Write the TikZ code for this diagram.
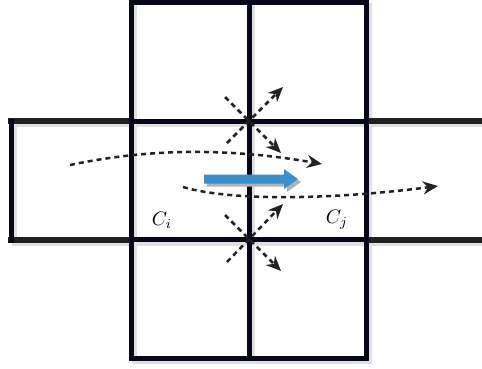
\documentclass[tikz,border=0pt]{standalone}
\usetikzlibrary{arrows.meta}
\definecolor{gridc}{HTML}{07071A}
\definecolor{sidec}{HTML}{231F20}
\definecolor{shadc}{HTML}{E0E0E2}
\definecolor{bluec}{HTML}{3A8FCF}
\definecolor{dashc}{HTML}{222222}
\tikzset{
  gridline/.style={draw=gridc,line width=5pt,line cap=rect},
  sideline/.style={draw=sidec,line width=5.5pt,line cap=rect},
  shadowline/.style={draw=shadc,line width=5pt,line cap=rect},
  flow/.style={draw=dashc,line width=2.5pt,dash pattern=on 5pt off 4pt,
    -{Stealth[length=15pt,width=13pt,inset=5pt]}},
  lbl/.style={inner sep=0pt,scale=1.95}
}
\begin{document}
\begin{tikzpicture}[x=1pt,y=-1pt]
\useasboundingbox (0,0) rectangle (482,368);
% shadows
\begin{scope}[shift={(3,3)}]
  \draw[shadowline] (131,2) -- (131,358) -- (366.5,358) -- (366.5,2);
  \draw[shadowline] (249.5,2) -- (249.5,358);
  \draw[shadowline] (11,121) -- (11,240) -- (482,240);
  \draw[shadowline] (11,121) -- (482,121);
\end{scope}
% side rectangles
\draw[sideline] (131,121) -- (11,121);
\draw[sideline] (131,240) -- (11,240);
\draw[sideline] (366.5,121) -- (485,121);
\draw[sideline] (366.5,240) -- (485,240);
\draw[gridline] (11,121) -- (11,240);
% central cross of cells
\draw[gridline,line join=miter] (131,2) rectangle (366.5,358);
\draw[gridline] (249.5,2) -- (249.5,358);
\draw[gridline] (131,121) -- (366.5,121);
\draw[gridline] (131,239.5) -- (366.5,239.5);
% labels
\node[lbl] (ci) at (162,220) {$C_i$};
\node[lbl] (cj) at (337,220) {$C_j$};
% flow curves
\coordinate (u0) at (70,165);
\coordinate (u1) at (322,164);
\draw[flow] (u0) .. controls (150,148) and (230,148) .. (u1);
\coordinate (l0) at (183,187);
\coordinate (l1) at (438,186);
\draw[flow] (l0) .. controls (230,201) and (330,200) .. (l1);
% diagonal crosses
\coordinate (a0) at (225,97);  \coordinate (a1) at (281,153);
\coordinate (b0) at (227,143); \coordinate (b1) at (283,87);
\coordinate (c0) at (225,215); \coordinate (c1) at (281,271);
\coordinate (d0) at (227,262); \coordinate (d1) at (283,204);
\draw[flow] (a0) -- (a1);
\draw[flow] (b0) -- (b1);
\draw[flow] (c0) -- (c1);
\draw[flow] (d0) -- (d1);
% blue arrow with shadow
\fill[gray!60] (207,177.5) -- (287,177.5) -- (287,172) -- (301,182) -- (287,192) -- (287,186.5) -- (207,186.5) -- cycle;
\fill[bluec] (204,174.5) -- (284,174.5) -- (284,169) -- (298,179) -- (284,189) -- (284,183.5) -- (204,183.5) -- cycle;
\end{tikzpicture}
\end{document}
